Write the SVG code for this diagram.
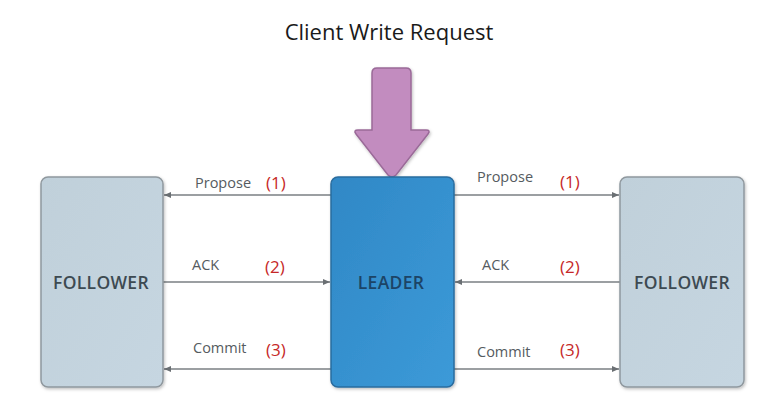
<svg xmlns="http://www.w3.org/2000/svg" width="776" height="411" viewBox="0 0 776 411">
<style>
.lbl{font-family:"Open Sans","Liberation Sans",sans-serif;font-size:14.5px;fill:#555b60}
.num{font-family:"Open Sans","Liberation Sans",sans-serif;font-size:17px;font-weight:500;fill:#c62828}
.node-txt{font-family:"Open Sans","Liberation Sans",sans-serif;font-size:17.5px;font-weight:600;text-anchor:middle;letter-spacing:0.3px}
.follower{fill:url(#gf);stroke:#8f989e;stroke-width:1.5}
.conn{stroke:#7a7f83;stroke-width:1.3;fill:none;marker-end:url(#ah)}
</style>
<defs>
<linearGradient id="gf" x1="0" y1="0" x2="1" y2="1">
<stop offset="0" stop-color="#c0d0da"/><stop offset="1" stop-color="#c6d6e1"/>
</linearGradient>
<linearGradient id="gl" x1="0" y1="0" x2="1" y2="1">
<stop offset="0" stop-color="#3088c6"/><stop offset="1" stop-color="#3c9ad8"/>
</linearGradient>
<marker id="ah" markerWidth="8" markerHeight="6" refX="7" refY="3" orient="auto" markerUnits="userSpaceOnUse">
<path d="M0,0 L7,3 L0,6 Z" fill="#6a6f73"/>
</marker>
<filter id="sh" x="-10%" y="-10%" width="120%" height="120%">
<feDropShadow dx="1" dy="1.5" stdDeviation="1.5" flood-color="#000" flood-opacity="0.25"/>
</filter>
</defs>
<rect width="776" height="411" fill="#ffffff"/>
<text x="389" y="40" text-anchor="middle" font-family="'Open Sans','Liberation Sans',sans-serif" font-size="22px" font-weight="500" fill="#1a1a1a">Client Write Request</text>
<g id="connectors">
<line class="conn" x1="331" y1="195" x2="164" y2="195"/>
<line class="conn" x1="163" y1="282" x2="330" y2="282"/>
<line class="conn" x1="331" y1="369" x2="164" y2="369"/>
<line class="conn" x1="454" y1="195" x2="619" y2="195"/>
<line class="conn" x1="620" y1="282" x2="455" y2="282"/>
<line class="conn" x1="454" y1="369" x2="619" y2="369"/>
<text class="lbl" x="195" y="188">Propose</text><text class="num" x="266" y="189">(1)</text>
<text class="lbl" x="192" y="270">ACK</text><text class="num" x="265" y="273">(2)</text>
<text class="lbl" x="193" y="353">Commit</text><text class="num" x="266" y="356">(3)</text>
<text class="lbl" x="477" y="182">Propose</text><text class="num" x="560" y="188">(1)</text>
<text class="lbl" x="482" y="270">ACK</text><text class="num" x="560" y="273">(2)</text>
<text class="lbl" x="477" y="357">Commit</text><text class="num" x="560" y="356">(3)</text>
</g>
<g id="client-request">
<path d="M377,68 H406 Q411,68 411,73 V130 H426 Q431,130 428,134 L396,175 Q392,179 388,175 L356,134 Q353,130 358,130 H372 V73 Q372,68 377,68 Z" fill="#c28cbf" stroke="#9a6a98" stroke-width="1.5" filter="url(#sh)"/>
</g>
<g id="follower-left">
<rect class="follower" x="41" y="177" width="122" height="210" rx="7" filter="url(#sh)"/>
<text class="node-txt" x="101" y="289" fill="#3d4a52">FOLLOWER</text>
</g>
<g id="leader">
<rect x="331" y="177" width="123" height="210" rx="7" fill="url(#gl)" stroke="#2a6c9e" stroke-width="1.5" filter="url(#sh)"/>
<text class="node-txt" x="391" y="289" fill="#1c4466">LEADER</text>
</g>
<g id="follower-right">
<rect class="follower" x="620" y="177" width="124" height="210" rx="7" filter="url(#sh)"/>
<text class="node-txt" x="682" y="289" fill="#3d4a52">FOLLOWER</text>
</g>
</svg>
